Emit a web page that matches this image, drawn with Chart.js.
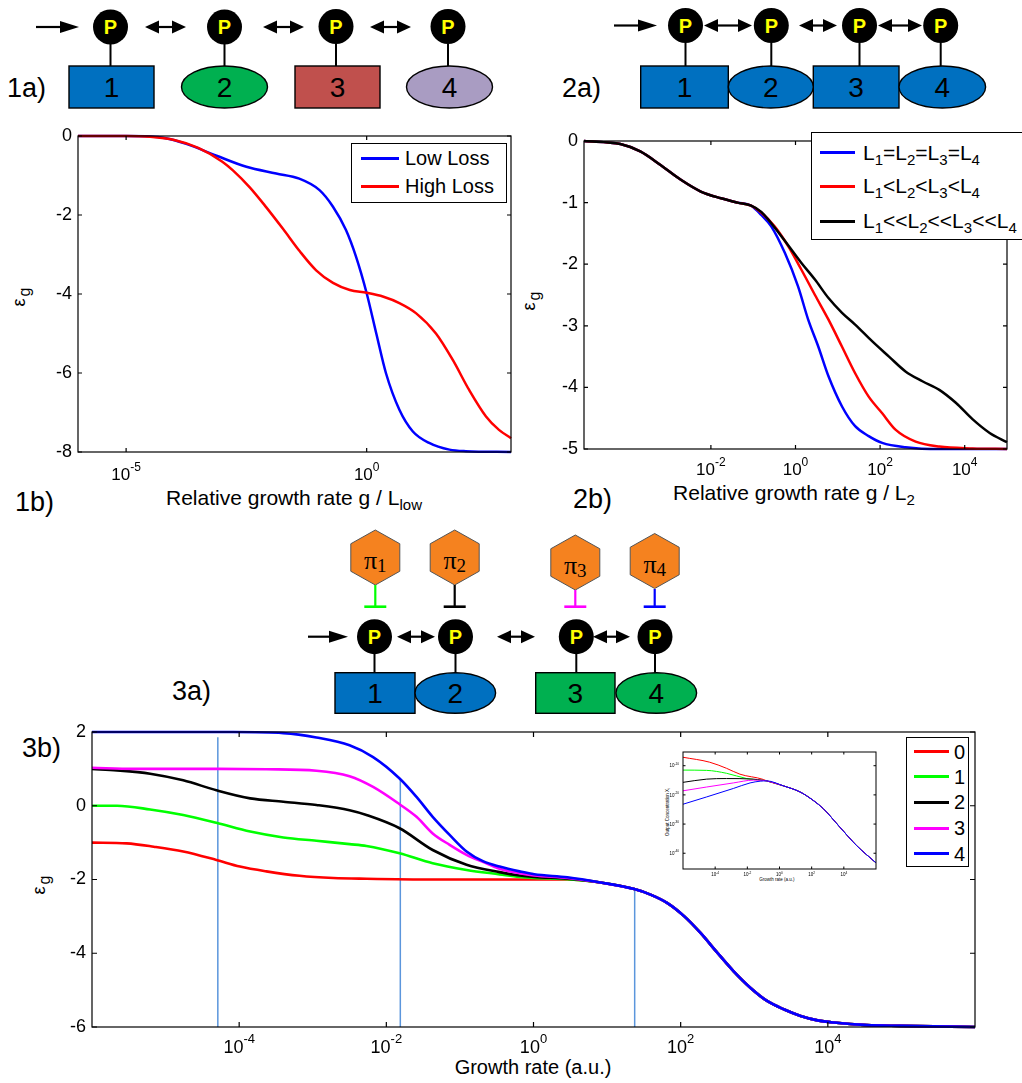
<!DOCTYPE html>
<html>
<head>
<meta charset="utf-8">
<title>Growth-rate sensitivity of phosphorelays</title>
<script src="https://cdn.jsdelivr.net/npm/chart.js@4.4.1/dist/chart.umd.min.js"></script>
<style>
  body { margin: 0; background: #fff; }
  #page { position: relative; width: 1022px; height: 1083px; overflow: hidden; font-family: "Liberation Sans", Arial, sans-serif; }
  #art { position: absolute; left: 0; top: 0; font-family: "Liberation Sans", Arial, sans-serif; }
  canvas { position: absolute; }
  .legend { position: absolute; background: #fff; border: 1px solid #000; box-sizing: border-box; }
  .legend .sw { position: absolute; height: 3px; }
  .legend .tx { position: absolute; font-size: 20px; line-height: 24px; white-space: nowrap; }
  .legend.wide .tx { font-size: 21px; }
  .legend sub { font-size: 15px; vertical-align: -5px; line-height: 0; }
</style>
</head>
<body>
<div id="page">
  <svg id="art" width="1022" height="1083"></svg>
  <canvas id="fig1" width="520" height="372" style="left:0px;top:120px"></canvas>
  <canvas id="fig2" width="502" height="372" style="left:520px;top:120px"></canvas>
  <canvas id="fig3" width="1022" height="350" style="left:0px;top:715px"></canvas>
  <canvas id="inset" width="230" height="140" style="left:655px;top:745px"></canvas>
</div>
<script>
// x values are stored as log10 of the growth rate

// 1b) one relay, low loss vs high loss
const fig1Labels = ['Low Loss', 'High Loss'];
const lowLossLogG  = [-6, -5, -4.5, -4.2, -3.75, -3.12, -2.5, -1.88, -1.4, -0.98, -0.7, -0.43, -0.22, 0, 0.2, 0.4, 0.68, 0.96, 1.3, 1.72, 2.06, 3];
const lowLossEps   = [0, 0, -0.01, -0.05, -0.2, -0.5, -0.78, -0.95, -1.08, -1.37, -1.79, -2.38, -3.06, -3.98, -5.0, -6.0, -6.93, -7.48, -7.77, -7.94, -7.98, -8];
const highLossLogG = [-6, -5, -4.5, -4.0, -3.5, -3.0, -2.78, -2.43, -2.09, -1.74, -1.39, -1.05, -0.7, -0.35, 0, 0.35, 0.68, 1.03, 1.44, 1.79, 2.13, 2.48, 2.75, 3];
const highLossEps  = [0, 0, -0.02, -0.1, -0.3, -0.65, -0.87, -1.3, -1.8, -2.35, -2.92, -3.4, -3.72, -3.9, -3.97, -4.07, -4.23, -4.49, -5.0, -5.67, -6.43, -7.1, -7.44, -7.65];
const fig1XTicks = [-5, 0];

// 2b) four-step relay with different losses
const fig2Labels = ['L1=L2=L3=L4', 'L1<L2<L3<L4', 'L1<<L2<<L3<<L4'];
const sharedLogG   = [-5, -4.14, -3.67, -3.19, -2.71, -2.24, -1.76, -1.37, -1.05];
const sharedEps    = [0, -0.05, -0.17, -0.39, -0.63, -0.82, -0.93, -1.0, -1.05];
const equalLogG    = [-0.81, -0.57, -0.25, 0.06, 0.3, 0.54, 0.78, 1.1, 1.41, 1.73, 2.05, 2.6, 3.4, 5];
const equalEps     = [-1.2, -1.39, -1.82, -2.36, -2.9, -3.34, -3.82, -4.31, -4.63, -4.79, -4.9, -4.97, -5.0, -5.0];
const lessLogG     = [-0.81, -0.49, -0.17, 0.14, 0.46, 0.78, 1.1, 1.41, 1.73, 2.05, 2.37, 2.84, 3.4, 4.19, 5];
const lessEps      = [-1.16, -1.39, -1.71, -2.09, -2.5, -2.9, -3.34, -3.77, -4.15, -4.42, -4.69, -4.88, -4.96, -4.99, -5.0];
const muchLessLogG = [-0.81, -0.33, 0.14, 0.46, 0.78, 1.1, 1.41, 1.81, 2.21, 2.6, 3.0, 3.4, 3.79, 4.19, 4.59, 5.0];
const muchLessEps  = [-1.15, -1.55, -1.98, -2.25, -2.55, -2.79, -2.98, -3.25, -3.5, -3.74, -3.9, -4.04, -4.25, -4.52, -4.74, -4.89];
const fig2XTicks = [-2, 0, 2, 4];

// 3b) number of inhibited steps
const fig3Labels = ['0', '1', '2', '3', '4'];
const inh0LogG = [-6, -5.53, -5.16, -4.76, -4.31, -3.99, -3.63, -3.18, -2.72, -2.27, -1.37, -0.44, 0.01, 0.46];
const inh0Eps  = [-1.0, -1.02, -1.11, -1.24, -1.47, -1.65, -1.78, -1.9, -1.96, -1.98, -2.0, -2.0, -2.0, -2.0];
const inh1LogG = [-6, -5.66, -5.21, -4.76, -4.31, -3.85, -3.4, -2.95, -2.5, -2.27, -1.82, -1.37, -0.91, -0.46, -0.19, 0.01, 0.46];
const inh1Eps  = [0, 0, -0.1, -0.25, -0.46, -0.7, -0.86, -0.95, -1.04, -1.09, -1.29, -1.56, -1.74, -1.86, -1.93, -1.96, -1.99];
const inh2LogG = [-6, -5.66, -5.21, -4.76, -4.31, -3.85, -3.4, -2.95, -2.5, -2.27, -1.82, -1.37, -0.91, -0.46, -0.19, 0.01, 0.46];
const inh2Eps  = [1.0, 0.96, 0.87, 0.69, 0.42, 0.2, 0.11, 0.02, -0.12, -0.25, -0.61, -1.2, -1.6, -1.8, -1.89, -1.93, -1.98];
const inh3LogG = [-6, -5.43, -4.31, -3.63, -2.95, -2.5, -2.18, -1.82, -1.59, -1.37, -1.14, -0.91, -0.68, -0.46, -0.19, 0.01, 0.46];
const inh3Eps  = [1.03, 1.0, 1.0, 0.99, 0.95, 0.8, 0.51, 0.04, -0.3, -0.75, -1.06, -1.33, -1.53, -1.71, -1.83, -1.89, -1.96];
const inh4LogG = [-6, -4.08, -3.4, -2.95, -2.5, -2.18, -1.82, -1.59, -1.37, -1.14, -0.91, -0.68, -0.46, -0.19, 0.01, 0.46];
const inh4Eps  = [2.0, 2.0, 1.97, 1.85, 1.64, 1.32, 0.74, 0.24, -0.3, -0.79, -1.24, -1.51, -1.65, -1.78, -1.86, -1.94];
const tailLogG = [0.91, 1.37, 1.59, 1.82, 2.05, 2.27, 2.5, 2.72, 2.95, 3.18, 3.4, 3.63, 3.86, 4.08, 4.53, 4.98, 6];
const tailEps  = [-2.08, -2.26, -2.41, -2.64, -3.0, -3.45, -3.99, -4.49, -4.94, -5.3, -5.52, -5.7, -5.82, -5.88, -5.95, -5.97, -6.0];
const markerLogG   = [-4.29, -1.81, 1.375];
const markerTopEps = [1.86, 0.72, -2.28];
const fig3XTicks = [-4, -2, 0, 2, 4];

// 3b inset) output concentration, log10 values
const insRedLogG = [-6, -4.34, -3.29, -2.46, -1.01];
const insRedLogC = [-7.1, -8.8, -10.9, -12.9, -14.7];
const insGreenLogG = [-6, -4.53, -3.29, -2.04, -1.1];
const insGreenLogC = [-11.5, -11.6, -12.6, -14.4, -15.0];
const insBlackLogG = [-6, -4.53, -3.29, -1.63, -1.1];
const insBlackLogC = [-15.7, -14.6, -14.4, -14.6, -14.95];
const insMagLogG = [-6, -4.53, -2.87, -1.63, -1.1];
const insMagLogC = [-18.6, -17.3, -15.9, -14.95, -15.0];
const insBlueLogG = [-6, -4.53, -2.87, -1.83, -1.2];
const insBlueLogC = [-23.2, -20.7, -17.8, -15.9, -15.3];
const insTailLogG = [-0.8, 0.24, 1.28, 2.1, 2.72, 3.76, 4.8, 6];
const insTailLogC = [-15.2, -16.9, -19.0, -21.9, -24.7, -31.1, -37.4, -43.3];
const insetXTicks = [-4, -2, 0, 2, 4];
const insetYTicks = [-10, -20, -30, -40];

const RED = '#ff0000', GREEN = '#00ff00', BLACK = '#000000', MAGENTA = '#ff00ff', BLUE = '#0000ff';
const CFONT = '"Liberation Sans", Arial, sans-serif';

// ---------- drawings (1a, 2a, 3a) ----------
const art = [];
function phos(cx, cy) {
  art.push(`<circle cx="${cx}" cy="${cy}" r="17.5" fill="#000"/>`,
    `<text x="${cx}" y="${cy + 7.2}" text-anchor="middle" font-weight="bold" font-size="20" fill="#ffff00">P</text>`);
}
function stem(x, y1, y2) {
  art.push(`<line x1="${x}" y1="${y1}" x2="${x}" y2="${y2}" stroke="#000" stroke-width="2"/>`);
}
function arrow(x1, x2, y) {
  art.push(`<line x1="${x1}" y1="${y}" x2="${x2 - 15}" y2="${y}" stroke="#000" stroke-width="2.2"/>`,
    `<polygon points="${x2 - 19},${y - 6} ${x2},${y} ${x2 - 19},${y + 6}" fill="#000"/>`);
}
function dblArrow(x1, x2, y) {
  art.push(`<line x1="${x1 + 10}" y1="${y}" x2="${x2 - 10}" y2="${y}" stroke="#000" stroke-width="2.2"/>`,
    `<polygon points="${x1 + 14},${y - 6.5} ${x1},${y} ${x1 + 14},${y + 6.5}" fill="#000"/>`,
    `<polygon points="${x2 - 14},${y - 6.5} ${x2},${y} ${x2 - 14},${y + 6.5}" fill="#000"/>`);
}
function num(cx, cy, n) {
  art.push(`<text x="${cx}" y="${cy + 10}" text-anchor="middle" font-size="28">${n}</text>`);
}
function box(x1, x2, y1, y2, fill, n) {
  art.push(`<rect x="${x1}" y="${y1}" width="${x2 - x1}" height="${y2 - y1}" fill="${fill}" stroke="#000" stroke-width="1.4"/>`);
  num((x1 + x2) / 2, (y1 + y2) / 2, n);
}
function oval(cx, cy, rx, ry, fill, n) {
  art.push(`<ellipse cx="${cx}" cy="${cy}" rx="${rx}" ry="${ry}" fill="${fill}" stroke="#000" stroke-width="1.4"/>`);
  num(cx, cy, n);
}
function hexagon(cx, cy, n) {
  const r = 27.5, w = 24.5;
  const p = [[cx, cy - r], [cx + w, cy - r / 2], [cx + w, cy + r / 2], [cx, cy + r], [cx - w, cy + r / 2], [cx - w, cy - r / 2]];
  art.push(`<polygon points="${p.map(q => q.join(',')).join(' ')}" fill="#f5821f" stroke="#555" stroke-width="1"/>`,
    `<text x="${cx}" y="${cy + 11.5}" text-anchor="middle" font-family="Liberation Serif, Times New Roman, serif" font-size="26">π<tspan font-size="19" dy="3">${n}</tspan></text>`);
}
function tbar(x, y1, y2, color) {
  art.push(`<line x1="${x}" y1="${y1}" x2="${x}" y2="${y2}" stroke="${color}" stroke-width="2.2"/>`,
    `<line x1="${x - 11}" y1="${y2}" x2="${x + 11}" y2="${y2}" stroke="${color}" stroke-width="2.6"/>`);
}
function text(x, y, s, size, anchor) {
  art.push(`<text x="${x}" y="${y}" font-size="${size}" text-anchor="${anchor || 'start'}">${s}</text>`);
}
function ytitle(x, y, size) {
  art.push(`<text transform="translate(${x},${y}) rotate(-90)" text-anchor="middle" font-size="${size}">ε<tspan font-size="${size - 2}" dx="2" dy="5">g</tspan></text>`);
}

// 1a
arrow(36, 79, 27);
[[110.5, 27], [224.5, 27], [336, 26.5], [448, 26.5]].forEach(([x, y]) => { stem(x, y + 17, 66); phos(x, y); });
dblArrow(145, 186, 27); dblArrow(263, 304, 27); dblArrow(370, 411, 27);
box(69, 154, 66, 108, '#0070c0', '1');
oval(224.5, 87, 43, 21, '#00b050', '2');
box(295, 380, 66, 108, '#c0504d', '3');
oval(449.5, 87, 43, 21, '#a99cc2', '4');
text(7, 97, '1a)', 27);

// 2a
arrow(614, 657, 25.5);
[[685.5, 25.5], [771.3, 25.5], [859.5, 25.5], [940.7, 25.5]].forEach(([x, y]) => { stem(x, y + 17, 66); phos(x, y); });
dblArrow(704, 752, 25.5); dblArrow(799, 837, 25.5); dblArrow(878, 922, 25.5);
box(640.7, 728.3, 66, 108, '#0070c0', '1');
box(813.3, 899, 66, 108, '#0070c0', '3');
oval(770.8, 87, 42.5, 21, '#0070c0', '2');
oval(942.3, 87, 43.3, 21, '#0070c0', '4');
text(562, 97, '2a)', 27);

// 3a
hexagon(375.3, 557.5, '1'); hexagon(454.7, 557.5, '2'); hexagon(575.3, 562.5, '3'); hexagon(654.7, 561, '4');
tbar(375.3, 585, 606.7, GREEN); tbar(454.7, 585, 606.7, BLACK); tbar(575.3, 590, 606.7, MAGENTA); tbar(654.7, 589, 606.7, BLUE);
arrow(308, 348, 636.7);
[[374.5, 636.7], [455.5, 636.7], [576.3, 636.7], [655, 636.7]].forEach(([x, y]) => { stem(x, y + 17, 672.7); phos(x, y); });
dblArrow(397, 435, 636.7); dblArrow(497, 535, 636.7); dblArrow(593, 630, 636.7);
box(335, 415, 672.7, 713.3, '#0070c0', '1');
oval(455.3, 693, 40.3, 20.3, '#0070c0', '2');
box(535.7, 615, 672.7, 713.3, '#00b050', '3');
oval(656.3, 693, 40.3, 20.3, '#00b050', '4');
text(172, 700, '3a)', 27);

// panel letters and axis titles
text(15, 511, '1b)', 27);
text(573, 508, '2b)', 27);
text(22, 757, '3b)', 27);
art.push(`<text x="294" y="505" text-anchor="middle" font-size="21">Relative growth rate g / L<tspan font-size="15" dy="5">low</tspan></text>`);
art.push(`<text x="794" y="500" text-anchor="middle" font-size="21">Relative growth rate g / L<tspan font-size="15" dy="5">2</tspan></text>`);
text(533, 1074, 'Growth rate (a.u.)', 20, 'middle');
ytitle(25, 297, 18);
ytitle(535, 301, 18);
ytitle(45, 885, 18);
// inset titles
art.push(`<text transform="translate(669,812) rotate(-90)" text-anchor="middle" font-size="4.5">Output Concentration X<tspan font-size="3.5" dy="1">i</tspan></text>`);
text(777, 881, 'Growth rate (a.u.)', 4.5, 'middle');
document.getElementById('art').innerHTML = art.join('');

// ---------- charts ----------
function drawPow(ctx, x, y, e, base, sup, align) {
  const s = String(e);
  ctx.font = base + 'px ' + CFONT;
  const w1 = ctx.measureText('10').width;
  ctx.font = sup + 'px ' + CFONT;
  const w2 = ctx.measureText(s).width;
  const x0 = align === 'center' ? x - (w1 + w2) / 2 : x - (w1 + w2);
  ctx.textAlign = 'left';
  ctx.textBaseline = 'alphabetic';
  ctx.font = base + 'px ' + CFONT;
  ctx.fillText('10', x0, y);
  ctx.font = sup + 'px ' + CFONT;
  ctx.fillText(s, x0 + w1, y - base * 0.55);
}

// Matlab-like box with inward ticks, 10^n labels
const matlabAxes = {
  id: 'matlabAxes',
  beforeDatasetsDraw(chart, args, o) {
    if (!o.fill) return;
    const a = chart.chartArea, ctx = chart.ctx;
    ctx.save();
    ctx.fillStyle = o.fill;
    ctx.fillRect(a.left, a.top, a.right - a.left, a.bottom - a.top);
    ctx.restore();
  },
  afterDraw(chart, args, o) {
    const ctx = chart.ctx, a = chart.chartArea, xs = chart.scales.x, ys = chart.scales.y;
    ctx.save();
    ctx.strokeStyle = '#000';
    ctx.lineWidth = o.lineWidth;
    ctx.strokeRect(a.left, a.top, a.right - a.left, a.bottom - a.top);
    ctx.beginPath();
    xs.ticks.forEach(t => {
      const p = xs.getPixelForValue(t.value);
      ctx.moveTo(p, a.bottom); ctx.lineTo(p, a.bottom - o.tick);
      ctx.moveTo(p, a.top); ctx.lineTo(p, a.top + o.tick);
    });
    ys.ticks.forEach(t => {
      const p = ys.getPixelForValue(t.value);
      ctx.moveTo(a.left, p); ctx.lineTo(a.left + o.tick, p);
      ctx.moveTo(a.right, p); ctx.lineTo(a.right - o.tick, p);
    });
    ctx.stroke();
    ctx.fillStyle = '#000';
    xs.ticks.forEach(t => drawPow(ctx, xs.getPixelForValue(t.value), a.bottom + o.drop,
      Math.round(Math.log10(t.value)), o.base, o.sup, 'center'));
    if (o.yPow) {
      ys.ticks.forEach(t => drawPow(ctx, a.left - o.yGap, ys.getPixelForValue(t.value) + o.base * 0.36,
        Math.round(Math.log10(t.value)), o.base, o.sup, 'right'));
    }
    ctx.restore();
  }
};

function pts(logs, vals) {
  return logs.map((e, i) => ({ x: 10 ** e, y: vals[i] }));
}
function series(label, color, logs, vals, width, order) {
  return {
    label, data: pts(logs, vals), borderColor: color, backgroundColor: color,
    borderWidth: width, pointRadius: 0, fill: false, clip: 3, order,
    cubicInterpolationMode: 'monotone'
  };
}
function linearY(min, max, step, width, size) {
  return {
    type: 'linear', min, max,
    ticks: { stepSize: step, color: '#000', padding: 6, font: { family: CFONT, size } },
    grid: { display: false, drawTicks: false }, border: { display: false },
    afterFit: s => { s.width = width; s.paddingTop = 0; s.paddingBottom = 0; }
  };
}
function logY(exps, ticks, width) {
  return {
    type: 'logarithmic', min: 10 ** exps[0], max: 10 ** exps[1],
    afterBuildTicks: s => { s.ticks = ticks.map(e => ({ value: 10 ** e })); },
    ticks: { display: false }, grid: { display: false, drawTicks: false }, border: { display: false },
    afterFit: s => { s.width = width; s.paddingTop = 0; s.paddingBottom = 0; }
  };
}
function buildChart(id, cfg) {
  return new Chart(document.getElementById(id), {
    type: 'line',
    data: { datasets: cfg.datasets },
    plugins: [matlabAxes],
    options: {
      responsive: false, animation: false, devicePixelRatio: 1,
      layout: { padding: { left: 0, top: cfg.padTop, right: cfg.padRight, bottom: 0 } },
      plugins: { legend: { display: false }, tooltip: { enabled: false }, matlabAxes: cfg.axes },
      scales: {
        x: {
          type: 'logarithmic', min: 10 ** cfg.xExp[0], max: 10 ** cfg.xExp[1],
          afterBuildTicks: s => { s.ticks = cfg.xTicks.map(e => ({ value: 10 ** e })); },
          afterFit: s => { s.height = cfg.xHeight; s.paddingLeft = 0; s.paddingRight = 0; },
          ticks: { display: false }, grid: { display: false, drawTicks: false }, border: { display: false }
        },
        y: cfg.y
      }
    }
  });
}

const page = document.getElementById('page');
function htmlLegend(chart, b) {
  const div = document.createElement('div');
  div.className = 'legend' + (b.wide ? ' wide' : '');
  Object.assign(div.style, { left: b.left + 'px', top: b.top + 'px', width: b.width + 'px', height: b.height + 'px' });
  chart.data.datasets.filter(d => d.label).forEach((d, i) => {
    const y = b.rows[i];
    const sw = document.createElement('div');
    sw.className = 'sw';
    Object.assign(sw.style, { left: b.swX + 'px', width: b.swW + 'px', top: (y - 1.5) + 'px', background: d.borderColor });
    const tx = document.createElement('div');
    tx.className = 'tx';
    Object.assign(tx.style, { left: b.textX + 'px', top: (y - 12) + 'px' });
    tx.innerHTML = d.label.replace(/</g, '&lt;').replace(/L(\d)/g, 'L<sub>$1</sub>');
    div.append(sw, tx);
  });
  page.appendChild(div);
}

// 1b
const fig1 = buildChart('fig1', {
  datasets: [
    series(fig1Labels[0], BLUE, lowLossLogG, lowLossEps, 2.5, 2),
    series(fig1Labels[1], RED, highLossLogG, highLossEps, 2.5, 1)
  ],
  xExp: [-6, 3], xTicks: fig1XTicks, xHeight: 40, padTop: 16, padRight: 9,
  y: linearY(-8, 0, 2, 78, 18),
  axes: { lineWidth: 1.2, tick: 4, base: 17, sup: 12, drop: 28 }
});
htmlLegend(fig1, { left: 351, top: 143, width: 156, height: 60, rows: [14, 42], swX: 9, swW: 38, textX: 53 });

// 2b
const fig2 = buildChart('fig2', {
  datasets: [
    series(fig2Labels[0], BLUE, sharedLogG.concat(equalLogG), sharedEps.concat(equalEps), 2.5, 3),
    series(fig2Labels[1], RED, sharedLogG.concat(lessLogG), sharedEps.concat(lessEps), 2.5, 2),
    series(fig2Labels[2], BLACK, sharedLogG.concat(muchLessLogG), sharedEps.concat(muchLessEps), 2.5, 1)
  ],
  xExp: [-5, 5], xTicks: fig2XTicks, xHeight: 43, padTop: 21, padRight: 15,
  y: linearY(-5, 0, 1, 64, 18),
  axes: { lineWidth: 1.2, tick: 4, base: 17, sup: 12, drop: 26 }
});
htmlLegend(fig2, { left: 811, top: 132, width: 220, height: 108, rows: [19.7, 53, 88], swX: 8, swW: 35, textX: 51, wide: true });

// 3b
const inhibitorSets = [
  [inh0LogG, inh0Eps, RED], [inh1LogG, inh1Eps, GREEN], [inh2LogG, inh2Eps, BLACK],
  [inh3LogG, inh3Eps, MAGENTA], [inh4LogG, inh4Eps, BLUE]
];
const fig3Sets = inhibitorSets.map(([g, e, c], i) =>
  series(fig3Labels[i], c, g.concat(tailLogG), e.concat(tailEps), 2.6, 5 - i));
markerLogG.forEach((m, i) => {
  fig3Sets.push({
    data: [{ x: 10 ** m, y: markerTopEps[i] }, { x: 10 ** m, y: -6 }],
    borderColor: '#5b96dc', borderWidth: 1.5, pointRadius: 0, fill: false, tension: 0, order: 10
  });
});
const fig3 = buildChart('fig3', {
  datasets: fig3Sets,
  xExp: [-6, 6], xTicks: fig3XTicks, xHeight: 38, padTop: 17, padRight: 47,
  y: linearY(-6, 2, 2, 92, 18),
  axes: { lineWidth: 1.2, tick: 5, base: 18, sup: 13, drop: 26 }
});
htmlLegend(fig3, { left: 906, top: 737, width: 63, height: 130, rows: [13.7, 38.7, 64, 90, 115.7], swX: 7, swW: 35, textX: 47 });

// inset
const insetParts = [
  [insRedLogG, insRedLogC, RED], [insGreenLogG, insGreenLogC, GREEN], [insBlackLogG, insBlackLogC, BLACK],
  [insMagLogG, insMagLogC, MAGENTA], [insBlueLogG, insBlueLogC, BLUE]
];
buildChart('inset', {
  datasets: insetParts.map(([g, c, col], i) => ({
    data: g.concat(insTailLogG).map((e, k) => ({ x: 10 ** e, y: 10 ** c.concat(insTailLogC)[k] })),
    borderColor: col, borderWidth: 1, pointRadius: 0, fill: false, order: 5 - i,
    cubicInterpolationMode: 'monotone', clip: 1
  })),
  xExp: [-6, 6], xTicks: insetXTicks, xHeight: 16, padTop: 7, padRight: 9,
  y: logY([-45.4, -5.3], insetYTicks, 28),
  axes: { lineWidth: 1, tick: 2.5, base: 4.5, sup: 3.2, drop: 7, yPow: true, yGap: 4, fill: '#fff' }
});
</script>
</body>
</html>
